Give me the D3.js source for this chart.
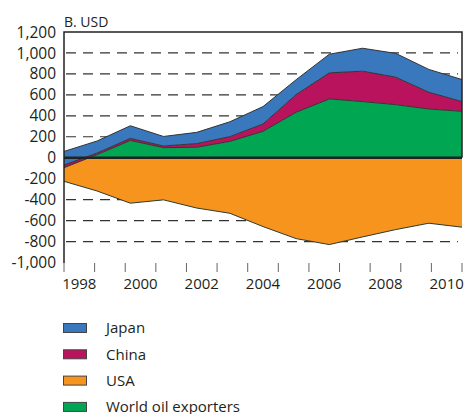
<!DOCTYPE html>
<html>
<head>
<meta charset="utf-8">
<style>
  body { margin: 0; background: #fff; }
  text { font-family: "Open Sans", sans-serif; fill: #231f20; }
</style>
</head>
<body>
<div id="chart"></div>
<script src="https://cdn.jsdelivr.net/npm/d3@7"></script>
<script>
// current account balances, billion USD
var years = [1998, 1999, 2000, 2001, 2002, 2003, 2004, 2005, 2006, 2007, 2008, 2009, 2010];
var japan = [130, 115, 120, 91, 107, 142, 166, 142, 178, 219, 227, 218, 210];
var china = [25, 15, 20, 16, 35, 45, 70, 169, 249, 290, 262, 160, 93];
var oilExporters = [-95, 30, 165, 96, 100, 156, 252, 434, 561, 536, 507, 465, 443];
var usa = [-225, -318, -434, -402, -480, -530, -657, -772, -829, -756, -686, -625, -663];

var yTicks = [1200, 1000, 800, 600, 400, 200, 0, -200, -400, -600, -800, -1000];
var yGrid = [1000, 800, 600, 400, 200, -200, -400, -600, -800];
var xLabels = [1998, 2000, 2002, 2004, 2006, 2008, 2010];

var legendItems = ["Japan", "China", "USA", "World oil exporters"];
var colors = {japan: "#3a78bd", china: "#b9135d", usa: "#f7941e", oil: "#00a651"};
var legendColors = [colors.japan, colors.china, colors.usa, colors.oil];

var W = 464, H = 414;
var pLeft = 64, pRight = 462, pTop = 32, pBottom = 263;

var svg = d3.select("#chart").append("svg")
    .attr("width", W)
    .attr("height", H);

// scales
var x = d3.scalePoint().domain(years).range([pLeft, pRight]);
var xBand = d3.scaleBand().domain(years).range([pLeft, pRight]);
var y = d3.scaleLinear().domain([-1000, 1200]).range([pBottom - 0.5, pTop]);

var data = years.map(function(yr, i) {
  return {year: yr, oil: oilExporters[i], china: china[i], japan: japan[i], usa: usa[i]};
});

// dashed gridlines (under the areas)
svg.append("g")
  .selectAll("line")
  .data(yGrid)
  .enter().append("line")
    .attr("x1", pLeft + 2)
    .attr("x2", pRight - 4)
    .attr("y1", function(d) { return y(d); })
    .attr("y2", function(d) { return y(d); })
    .attr("stroke", "#333")
    .attr("stroke-width", 1.2)
    .attr("stroke-dasharray", "10,7");

var stack = d3.stack().keys(["oil", "china", "japan"]);
var series = stack(data);

var area = d3.area()
    .x(function(d) { return x(d.data.year); })
    .y0(function(d) { return y(d[0]); })
    .y1(function(d) { return y(d[1]); });

var topLine = d3.line()
    .x(function(d) { return x(d.data.year); })
    .y(function(d) { return y(d[1]); });

// oil exporters first, then USA, then china / japan bands on top
svg.append("path")
    .datum(series[0])
    .attr("fill", colors.oil)
    .attr("d", area);

svg.append("path")
    .datum(data)
    .attr("fill", colors.usa)
    .attr("d", d3.area()
      .x(function(d) { return x(d.year); })
      .y0(y(0))
      .y1(function(d) { return y(d.usa); }));

svg.append("path")
    .datum(data)
    .attr("fill", "none")
    .attr("stroke", "#2b3b30")
    .attr("stroke-width", 1)
    .attr("d", d3.line()
      .x(function(d) { return x(d.year); })
      .y(function(d) { return y(d.usa); }));

[series[1], series[2]].forEach(function(s) {
  svg.append("path")
      .datum(s)
      .attr("fill", colors[s.key])
      .attr("d", area);
});

series.forEach(function(s) {
  svg.append("path")
      .datum(s)
      .attr("fill", "none")
      .attr("stroke", "#333")
      .attr("stroke-width", 1)
      .attr("d", topLine);
});

// zero line
svg.append("line")
    .attr("x1", pLeft).attr("x2", pRight)
    .attr("y1", y(0)).attr("y2", y(0))
    .attr("stroke", "#222")
    .attr("stroke-width", 2.5);

// frame: left, top, right
svg.append("path")
    .attr("d", "M" + pLeft + "," + pBottom + "V" + pTop + "H" + pRight + "V" + y(0))
    .attr("fill", "none")
    .attr("stroke", "#222")
    .attr("stroke-width", 1.5);

// x ticks at band edges
var edges = years.map(function(d) { return xBand(d); }).concat([pRight]);
svg.append("g")
  .selectAll("line")
  .data(edges)
  .enter().append("line")
    .attr("x1", function(d) { return d; })
    .attr("x2", function(d) { return d; })
    .attr("y1", pBottom)
    .attr("y2", pBottom + 9)
    .attr("stroke", "#666")
    .attr("stroke-width", 1);

svg.append("g")
  .selectAll("text")
  .data(xLabels)
  .enter().append("text")
    .attr("x", function(d) { return xBand(d) + xBand.bandwidth() / 2; })
    .attr("y", 289)
    .attr("text-anchor", "middle")
    .style("font-size", "15px")
    .text(function(d) { return d; });

// y labels
svg.append("g")
  .selectAll("text")
  .data(yTicks)
  .enter().append("text")
    .attr("x", 56)
    .attr("y", function(d) { return y(d); })
    .attr("dy", "0.36em")
    .attr("text-anchor", "end")
    .style("font-size", "15.5px")
    .text(function(d) { return d3.format(",")(d).replace("\u2212", "-"); });

svg.append("text")
    .attr("x", pLeft)
    .attr("y", 27)
    .style("font-size", "14px")
    .text("B. USD");

// legend
var legend = svg.append("g")
  .selectAll("g")
  .data(legendItems)
  .enter().append("g")
    .attr("transform", function(d, i) { return "translate(0," + (328 + i * 26.3) + ")"; });

legend.append("rect")
    .attr("x", 63.5)
    .attr("y", -4.5)
    .attr("width", 23)
    .attr("height", 9)
    .attr("fill", function(d, i) { return legendColors[i]; })
    .attr("stroke", "#444")
    .attr("stroke-width", 1);

legend.append("text")
    .attr("x", 106)
    .attr("dy", "0.36em")
    .style("font-size", "15px")
    .text(function(d) { return d; });
</script>
</body>
</html>
